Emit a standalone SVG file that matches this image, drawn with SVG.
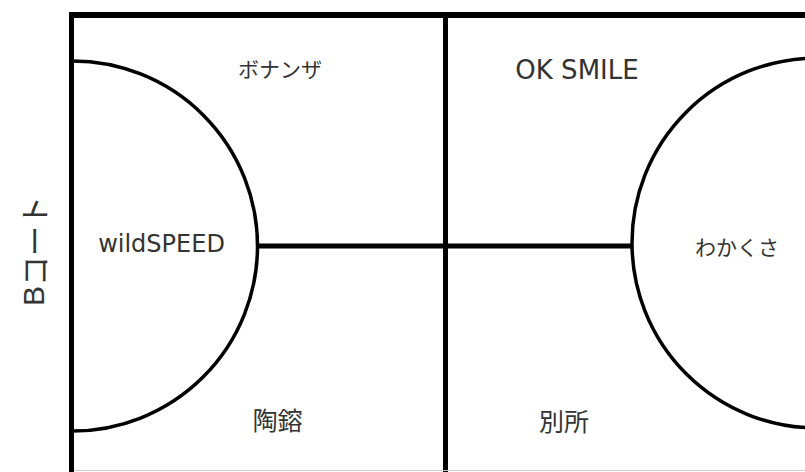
<svg xmlns="http://www.w3.org/2000/svg" width="805" height="472" viewBox="0 0 805 472">
<style>
.ln{stroke:#000;fill:none;stroke-linecap:butt}
.arc{stroke:#000;fill:none;stroke-width:3.5}
.t{fill:#333;font-family:"DejaVu Sans","Noto Sans CJK JP",sans-serif;text-anchor:middle}
.j{fill:#333;font-family:"Noto Sans CJK JP",sans-serif;text-anchor:middle;dominant-baseline:central}
</style>
<rect x="0" y="0" width="805" height="472" fill="#fff"/>
<g id="court">
<line class="ln" x1="69" y1="15" x2="805" y2="15" stroke-width="6"/>
<line class="ln" x1="71.5" y1="12" x2="71.5" y2="472" stroke-width="5"/>
<line class="ln" x1="445.5" y1="15" x2="445.5" y2="472" stroke-width="5"/>
<line x1="74" y1="470.5" x2="805" y2="470.5" stroke="#c8c8c8" stroke-width="1"/>
</g>
<g id="connectors">
<line class="ln" x1="256" y1="246" x2="633" y2="246" stroke-width="5"/>
<path class="arc" d="M72.5,61 A185,185 0 0 1 72.5,431"/>
<circle class="arc" cx="817" cy="243" r="185"/>
</g>
<g id="label-bcourt"><text class="j" transform="translate(33,251) rotate(-90)" font-size="30"><tspan font-family="Liberation Sans,sans-serif">B</tspan>コート</text></g>
<g id="node-bonanza"><text class="j" x="280" y="68" font-size="21">ボナンザ</text></g>
<g id="node-oksmile"><text class="t" x="577" y="79" font-size="26">OK SMILE</text></g>
<g id="node-wildspeed"><text class="t" x="161.5" y="252" font-size="24">wildSPEED</text></g>
<g id="node-wakakusa"><text class="j" x="737" y="246" font-size="21">わかくさ</text></g>
<g id="node-toyo"><text class="j" x="277.5" y="419" font-size="25">陶鎔</text></g>
<g id="node-bessho"><text class="j" x="564" y="420" font-size="25">別所</text></g>
</svg>
